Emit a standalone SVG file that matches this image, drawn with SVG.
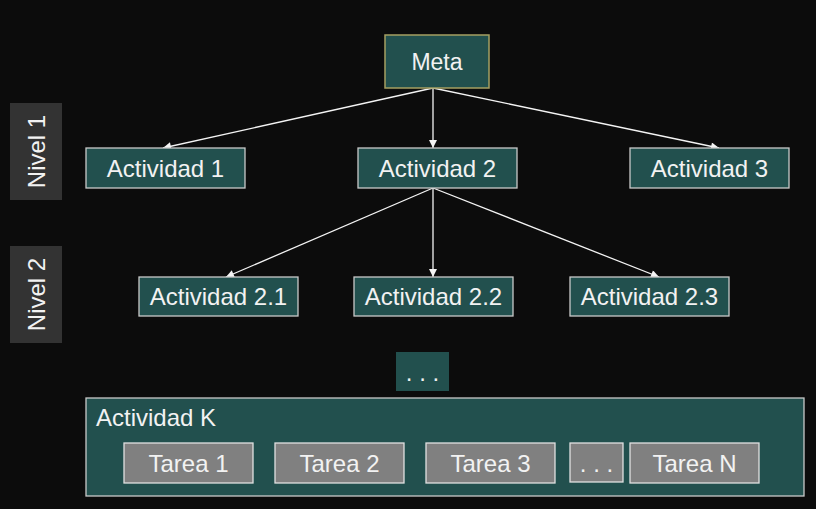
<svg xmlns="http://www.w3.org/2000/svg" width="816" height="509" viewBox="0 0 816 509">
<defs>
<style>
text{font-family:"Liberation Sans",Arial,sans-serif;font-size:24px;fill:#f2f2f2}
.node{fill:#22504e;stroke:#c9c9c9;stroke-width:1.3}
.meta{fill:#22504e;stroke:#a59f62;stroke-width:1.5}
.lvl{fill:#333333}
.task{fill:#808080;stroke:#e0e0e0;stroke-width:1.3}
.edge{stroke:#f4f4f4;stroke-width:1.3;fill:none;marker-end:url(#ah)}
.c{text-anchor:middle}
</style>
<marker id="ah" viewBox="0 0 10 10" refX="10" refY="5" markerWidth="10" markerHeight="8" markerUnits="userSpaceOnUse" orient="auto">
<path d="M0,0 L10,5 L0,10 z" fill="#f4f4f4"/>
</marker>
</defs>
<rect width="816" height="509" fill="#0c0c0c"/>
<g id="nivel1"><rect class="lvl" x="10" y="103" width="52" height="97"/><text class="c" transform="translate(45,151.5) rotate(-90)">Nivel 1</text></g>
<g id="nivel2"><rect class="lvl" x="10" y="246" width="52" height="97"/><text class="c" transform="translate(45,294.5) rotate(-90)">Nivel 2</text></g>
<g id="connectors">
<line class="edge" x1="433" y1="88" x2="163" y2="148"/>
<line class="edge" x1="433" y1="88" x2="433" y2="148"/>
<line class="edge" x1="433" y1="88" x2="719" y2="148"/>
<line class="edge" x1="433" y1="188" x2="226" y2="277"/>
<line class="edge" x1="433" y1="188" x2="433" y2="277"/>
<line class="edge" x1="433" y1="188" x2="659" y2="277"/>
</g>
<g id="meta"><rect class="meta" x="385" y="35" width="104" height="53"/><text class="c" x="437" y="70" style="font-size:23px">Meta</text></g>
<g id="act1"><rect class="node" x="86" y="148" width="159" height="40"/><text class="c" x="165.5" y="176.5">Actividad 1</text></g>
<g id="act2"><rect class="node" x="358" y="148" width="159" height="40"/><text class="c" x="437.5" y="176.5">Actividad 2</text></g>
<g id="act3"><rect class="node" x="630" y="148" width="159" height="40"/><text class="c" x="709.5" y="176.5">Actividad 3</text></g>
<g id="act21"><rect class="node" x="139" y="277" width="159" height="39"/><text class="c" x="218.5" y="305">Actividad 2.1</text></g>
<g id="act22"><rect class="node" x="354" y="277" width="159" height="39"/><text class="c" x="433.5" y="305">Actividad 2.2</text></g>
<g id="act23"><rect class="node" x="570" y="277" width="159" height="39"/><text class="c" x="649.5" y="305">Actividad 2.3</text></g>
<g id="dots"><rect x="396" y="352" width="53" height="39" fill="#22504e"/><text class="c" x="422.5" y="381">. . .</text></g>
<g id="actK"><rect class="node" x="86" y="398" width="718" height="98" stroke="#a8a8a8"/><text x="96" y="426">Actividad K</text>
<g id="t1"><rect class="task" x="124" y="443" width="129" height="40"/><text class="c" x="188.5" y="471.5">Tarea 1</text></g>
<g id="t2"><rect class="task" x="275" y="443" width="129" height="40"/><text class="c" x="339.5" y="471.5">Tarea 2</text></g>
<g id="t3"><rect class="task" x="426" y="443" width="129" height="40"/><text class="c" x="490.5" y="471.5">Tarea 3</text></g>
<g id="tdots"><rect class="task" x="570" y="443" width="53" height="39"/><text class="c" x="596.5" y="471.5">. . .</text></g>
<g id="tN"><rect class="task" x="630" y="443" width="129" height="40"/><text class="c" x="694.5" y="471.5">Tarea N</text></g>
</g>
</svg>
